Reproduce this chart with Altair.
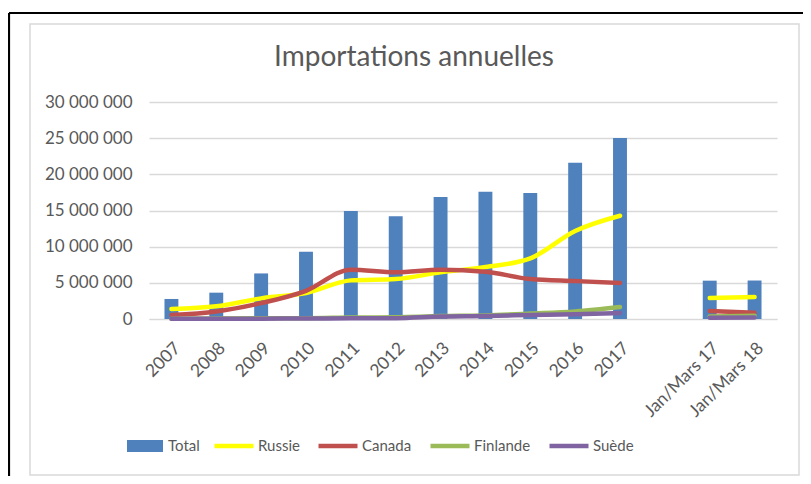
import altair as alt
import pandas as pd

categories = ["2007", "2008", "2009", "2010", "2011", "2012", "2013", "2014",
              "2015", "2016", "2017", " ", "Jan/Mars 17", "Jan/Mars 18"]
segments = ["an"] * 11 + ["vide", "trim", "trim"]
total = [2770000, 3640000, 6300000, 9300000, 14930000, 14190000, 16870000,
         17600000, 17420000, 21600000, 25020000, None, 5300000, 5320000]
russie = [1380000, 1750000, 2850000, 3600000, 5340000, 5530000, 6450000,
          7190000, 8380000, 12170000, 14280000, None, 2900000, 3040000]
canada = [550000, 1050000, 2200000, 3900000, 6820000, 6450000, 6820000,
          6540000, 5530000, 5250000, 4980000, None, 1100000, 870000]
finlande = [50000, 60000, 100000, 110000, 200000, 250000, 400000, 500000,
            750000, 1050000, 1660000, None, 360000, 450000]
suede = [20000, 30000, 50000, 60000, 100000, 120000, 350000, 420000,
         550000, 650000, 830000, None, 180000, 200000]

line_names = ["Russie", "Canada", "Finlande", "Suède"]
line_colors = ["#FFFF00", "#C0504D", "#9BBB59", "#8064A2"]
bar_color = "#4F81BD"

bars_df = pd.DataFrame({"cat": categories, "serie": "Total", "val": total})
bars_df = bars_df.dropna()

rows = []
for name, vals in zip(line_names, [russie, canada, finlande, suede]):
    for c, s, v in zip(categories, segments, vals):
        if v is not None:
            rows.append({"cat": c, "serie": name, "seg": s, "val": v,
                         "ordre": line_names.index(name)})
lines_df = pd.DataFrame(rows)

FONT = "Lato"
GREY = "#595959"
GRID = "#D9D9D9"

x_enc = alt.X("cat:N", sort=categories,
              scale=alt.Scale(domain=categories, paddingInner=0, paddingOuter=0),
              axis=alt.Axis(title=None, labelAngle=-45, ticks=False,
                            domainColor=GRID, domainWidth=1,
                            labelFont=FONT, labelFontSize=17.5, labelColor=GREY,
                            labelPadding=20))
y_enc = alt.Y("val:Q", scale=alt.Scale(domain=[0, 30000000], nice=False),
              axis=alt.Axis(title=None, values=[0, 5000000, 10000000, 15000000,
                                                20000000, 25000000, 30000000],
                            domain=False, ticks=False, gridColor=GRID,
                            gridWidth=1.3,
                            labelExpr="replace(format(datum.value, ','), /,/g, ' ')",
                            labelFont=FONT, labelFontSize=17, labelColor=GREY,
                            labelPadding=17))

bar_legend = alt.Legend(
    title=None, orient="none", direction="horizontal", legendX=-24, legendY=324,
    symbolType="M-0.9,-0.3H0.9V0.3H-0.9Z", symbolSize=1600, symbolStrokeWidth=0,
    labelFont=FONT, labelFontSize=15, labelColor=GREY, labelOffset=3, padding=0)
line_legend = alt.Legend(
    title=None, orient="none", direction="horizontal", legendX=63, legendY=322,
    symbolType="stroke", symbolSize=1521, symbolStrokeWidth=4.5,
    labelFont=FONT, labelFontSize=15, labelColor=GREY, labelOffset=2,
    columnPadding=9, padding=0)

frame_df = pd.DataFrame({"k": [0]})
outer_h = alt.Chart(frame_df).mark_rule(color="black", strokeWidth=2.2).encode(
    x=alt.value(-140), x2=alt.value(700), y=alt.value(-89))
outer_v = alt.Chart(frame_df).mark_rule(color="black", strokeWidth=2.2).encode(
    x=alt.value(-140), y=alt.value(-89), y2=alt.value(400))
inner = alt.Chart(frame_df).mark_rect(filled=False, stroke=GRID, strokeWidth=1.5).encode(
    x=alt.value(-119), x2=alt.value(650), y=alt.value(-78), y2=alt.value(373))

bars = alt.Chart(bars_df).mark_bar(width={"band": 0.31}).encode(
    x=x_enc, y=y_enc,
    fill=alt.Fill("serie:N", scale=alt.Scale(domain=["Total"], range=[bar_color]),
                  legend=bar_legend))

lines = alt.Chart(lines_df).mark_line(strokeWidth=4.5, interpolate="monotone",
                                      strokeCap="round", strokeJoin="round").encode(
    x=x_enc, y=y_enc,
    stroke=alt.Stroke("serie:N", scale=alt.Scale(domain=line_names, range=line_colors),
                      sort=line_names, legend=line_legend),
    detail="seg:N",
    order="ordre:Q")

chart = alt.layer(outer_h, outer_v, inner, bars, lines).resolve_scale(
    fill="independent", stroke="independent"
).properties(
    width=628, height=217,
    autosize=alt.AutoSizeParams(type="none"),
    padding={"left": 141, "top": 94, "right": 26, "bottom": 157},
    background="white",
    title=alt.Title("Importations annuelles", font=FONT, fontSize=28,
                    fontWeight="normal", color=GREY, anchor="middle",
                    baseline="alphabetic", dx=-49, offset=-82),
).configure_view(stroke=None)

chart.save("out.html", embed_options={"renderer": "svg", "actions": False})
